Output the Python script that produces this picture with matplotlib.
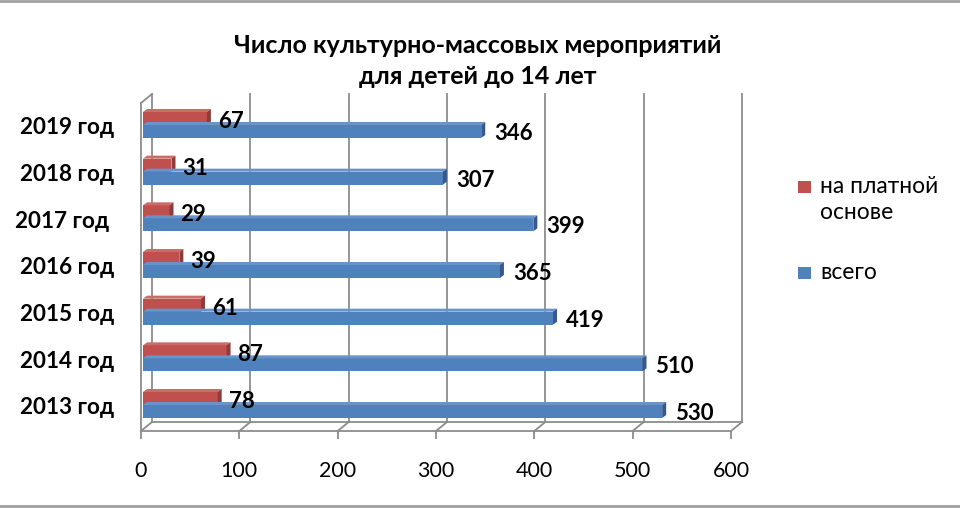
import matplotlib
matplotlib.use("Agg")
import matplotlib.pyplot as plt
from matplotlib.patches import Polygon, Rectangle
from matplotlib.lines import Line2D

plt.rcParams['font.family'] = ['Lato', 'DejaVu Sans']

categories = ["2013 год", "2014 год", "2015 год", "2016 год", "2017 год ", "2018 год", "2019 год"]
paid = [78, 87, 61, 39, 29, 31, 67]
total = [530, 510, 419, 365, 399, 307, 346]
series_names = ["на платной\nоснове", "всего"]
xticks = [0, 100, 200, 300, 400, 500, 600]
title = "Число культурно-массовых мероприятий\nдля детей до 14 лет"

RED = "#C0504D"; RED_SIDE = "#8E3B39"; RED_TOP = "#CB6C69"
BLUE = "#4F81BD"; BLUE_SIDE = "#34598A"; BLUE_TOP = "#6A94C8"
GRID = "#8C8C8C"

W, H = 960, 510
fig = plt.figure(figsize=(W / 100, H / 100), dpi=100)
ax_l, ax_r, ax_b, ax_t = 141, 731, 78, 406   # pixels from left / bottom
ax = fig.add_axes([ax_l / W, ax_b / H, (ax_r - ax_l) / W, (ax_t - ax_b) / H])

unit_px = 46.67
y0 = -26 / unit_px
y1 = y0 + (ax_t - ax_b) / unit_px
ax.set_xlim(xticks[0], xticks[-1])
ax.set_ylim(y0, y1)

pxx = (xticks[-1] - xticks[0]) / (ax_r - ax_l)   # data units per px (x)
pxy = 1 / unit_px                                # data units per px (y)

# back-wall offset
ox, oy = 11 * pxx, 9 * pxy
for v in xticks:
    ax.add_line(Line2D([v + ox, v + ox], [y0 + oy, y1 + oy], color=GRID, lw=1.3, clip_on=False, zorder=0))
    ax.add_line(Line2D([v, v + ox], [y0, y0 + oy], color=GRID, lw=1.3, clip_on=False, zorder=0))
ax.add_line(Line2D([xticks[0] + ox, xticks[-1] + ox], [y0 + oy, y0 + oy], color=GRID, lw=1.3, clip_on=False, zorder=0))
ax.add_line(Line2D([xticks[0], xticks[0] + ox], [y1, y1 + oy], color=GRID, lw=1.3, clip_on=False, zorder=0))

h = 13 * pxy
dx, dy = 4 * pxx, 3 * pxy
bar_x0 = 2 * pxx
ys = list(range(len(categories)))

def bar3d(x_end, yc, face, top, side, z):
    yb, yt = yc - h / 2, yc + h / 2
    ax.add_patch(Rectangle((bar_x0, yb), x_end - bar_x0, h, facecolor=face, edgecolor='none', zorder=z))
    ax.add_patch(Polygon([(bar_x0, yt), (x_end, yt), (x_end + dx, yt + dy), (bar_x0 + dx, yt + dy)],
                         closed=True, facecolor=top, edgecolor='none', zorder=z))
    ax.add_patch(Polygon([(x_end, yb), (x_end + dx, yb + dy), (x_end + dx, yt + dy), (x_end, yt)],
                         closed=True, facecolor=side, edgecolor='none', zorder=z))

for i, y in enumerate(ys):
    yr = y + h / 2
    yb_ = y - h / 2
    bar3d(paid[i], yr, RED, RED_TOP, RED_SIDE, 2)
    bar3d(total[i], yb_, BLUE, BLUE_TOP, BLUE_SIDE, 3)
    ax.text(paid[i] + 11 * pxx, yr - 2 * pxy, str(paid[i]), ha='left', va='center',
            fontsize=16, fontweight='bold', color='black', zorder=5)
    ax.text(total[i] + 13 * pxx, yb_ - 1 * pxy, str(total[i]), ha='left', va='center',
            fontsize=16, fontweight='bold', color='black', zorder=5)

# axes styling
for s in ['top', 'right']:
    ax.spines[s].set_visible(False)
for s in ['left', 'bottom']:
    ax.spines[s].set_color(GRID)
    ax.spines[s].set_linewidth(1.3)
ax.set_xticks(xticks)
ax.set_xticklabels([str(v) for v in xticks], fontsize=15.5)
ax.tick_params(axis='x', length=6, width=1.3, color=GRID, pad=15)
ax.set_yticks(ys)
ax.set_yticklabels(categories, fontsize=16.2, fontweight='bold')
ax.tick_params(axis='y', length=0, pad=19)
ax.set_facecolor('none')

# title
fig.text(478 / W, 1 - 61 / H, title, ha='center', va='center', fontsize=18, fontweight='bold',
         linespacing=1.38)

# legend (manual)
leg = [(RED, series_names[0], 188), (BLUE, series_names[1], 274)]
for col, name, yc in leg:
    fig.patches.append(Rectangle((798 / W, 1 - (yc + 6) / H), 13 / W, 12 / H, facecolor=col,
                                 edgecolor='none', transform=fig.transFigure))
    fig.text(820 / W, 1 - (yc - 12) / H, name, ha='left', va='top', fontsize=16.4, linespacing=1.3)

# frame lines
for yy in [2, 507]:
    fig.add_artist(Line2D([0, 1], [1 - yy / H, 1 - yy / H], color="#A0A0A0", lw=2, transform=fig.transFigure))

fig.savefig("out.png", dpi=100)
